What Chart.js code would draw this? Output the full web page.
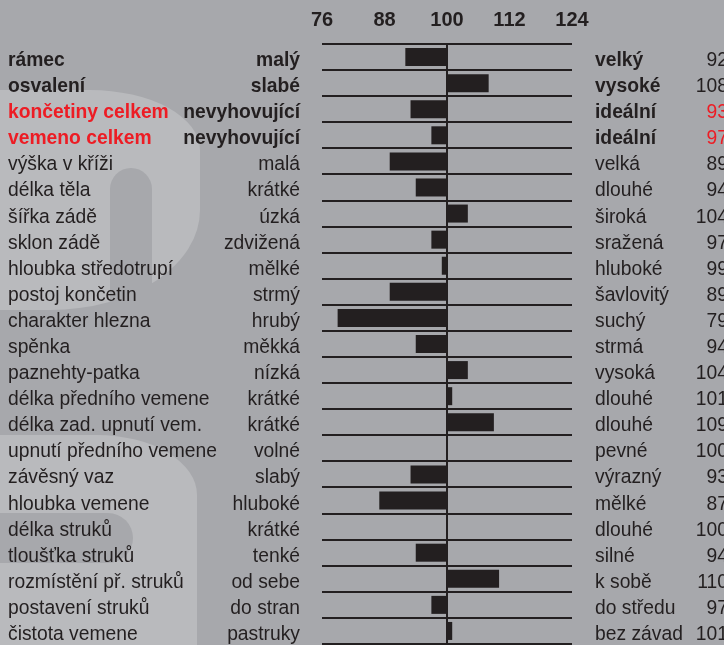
<!DOCTYPE html>
<html>
<head>
<meta charset="utf-8">
<script src="https://cdn.jsdelivr.net/npm/chart.js@4/dist/chart.umd.min.js"></script>
<style>
  html, body { margin: 0; padding: 0; background: #a7a8ac; }
  #wrap { position: relative; width: 724px; height: 645px; overflow: hidden; background: #a7a8ac; }
  .wm { position: absolute; background: #b9babd; }
  .hole { position: absolute; background: #a7a8ac; }
  canvas { position: absolute; left: 0; top: 0; }
</style>
</head>
<body>
<div id="wrap">
  <div class="wm" style="left:-60px; top:90px; width:260px; height:220px; border-radius:0 110px 150px 0 / 0 60px 100px 0;"></div>
  <div class="hole" style="left:110px; top:168px; width:42px; height:160px; border-radius:21px 21px 0 0;"></div>
  <div class="wm" style="left:-60px; top:435px; width:257px; height:230px; border-radius:0 100px 0 0 / 0 60px 0 0;"></div>
  <div class="hole" style="left:-20px; top:513px; width:153px; height:50px; border-radius:0 25px 25px 0;"></div>
  <canvas id="chart" width="724" height="645"></canvas>
</div>
<script>
const categories = [
  'rámec', 'osvalení', 'končetiny celkem', 'vemeno celkem', 'výška v kříži',
  'délka těla', 'šířka zádě', 'sklon zádě', 'hloubka středotrupí', 'postoj končetin',
  'charakter hlezna', 'spěnka', 'paznehty-patka', 'délka předního vemene',
  'délka zad. upnutí vem.', 'upnutí předního vemene', 'závěsný vaz', 'hloubka vemene',
  'délka struků', 'tloušťka struků', 'rozmístění př. struků', 'postavení struků',
  'čistota vemene'
];
const lowLabels = [
  'malý', 'slabé', 'nevyhovující', 'nevyhovující', 'malá', 'krátké', 'úzká',
  'zdvižená', 'mělké', 'strmý', 'hrubý', 'měkká', 'nízká', 'krátké', 'krátké',
  'volné', 'slabý', 'hluboké', 'krátké', 'tenké', 'od sebe', 'do stran', 'pastruky'
];
const highLabels = [
  'velký', 'vysoké', 'ideální', 'ideální', 'velká', 'dlouhé', 'široká',
  'sražená', 'hluboké', 'šavlovitý', 'suchý', 'strmá', 'vysoká', 'dlouhé', 'dlouhé',
  'pevné', 'výrazný', 'mělké', 'dlouhé', 'silné', 'k sobě', 'do středu', 'bez závad'
];
const values = [92, 108, 93, 97, 89, 94, 104, 97, 99, 89, 79, 94, 104, 101, 109, 100, 93, 87, 100, 94, 110, 97, 101];
const xTicks = [76, 88, 100, 112, 124];
const baseValue = 100;

const ink = '#231f20';
const red = '#ed1c24';
const font = '"Liberation Sans", Arial, Helvetica, sans-serif';
const boldRows = 4;          // first rows are the summary traits
const redRows = [2, 3];

const rowText = {
  id: 'rowText',
  afterDraw(chart) {
    const { ctx, scales: { y } } = chart;
    ctx.save();
    ctx.textBaseline = 'alphabetic';
    categories.forEach((cat, i) => {
      const yy = y.getPixelForValue(i) + 9;
      const bold = i < boldRows;
      const isRed = redRows.includes(i);
      ctx.font = (bold ? 'bold ' : '') + '19.3px ' + font;

      ctx.fillStyle = isRed ? red : ink;
      ctx.textAlign = 'left';
      ctx.fillText(cat, 8, yy);

      ctx.fillStyle = ink;
      ctx.textAlign = 'right';
      ctx.fillText(lowLabels[i], 300, yy);

      ctx.textAlign = 'left';
      ctx.fillText(highLabels[i], 595, yy);

      ctx.font = '19.3px ' + font;
      ctx.fillStyle = isRed ? red : ink;
      ctx.textAlign = 'right';
      ctx.fillText(String(values[i]), 728, yy);
    });
    ctx.restore();
  }
};

new Chart(document.getElementById('chart'), {
  type: 'bar',
  data: {
    labels: categories,
    datasets: [{
      data: values.map(v => [baseValue, v]),
      backgroundColor: ink,
      borderWidth: 0,
      borderSkipped: false,
      barPercentage: 0.69,
      categoryPercentage: 1
    }]
  },
  options: {
    indexAxis: 'y',
    responsive: false,
    animation: false,
    layout: { padding: { left: 322, right: 152, top: 0, bottom: 1 } },
    plugins: { legend: { display: false }, tooltip: { enabled: false } },
    scales: {
      x: {
        position: 'top',
        min: 76,
        max: 124,
        afterBuildTicks: s => { s.ticks = xTicks.map(v => ({ value: v })); },
        afterFit: s => { s.height = 44; },
        border: { display: false },
        grid: {
          drawTicks: false,
          lineWidth: 2,
          color: c => (c.tick && c.tick.value === baseValue ? ink : 'rgba(0,0,0,0)')
        },
        ticks: {
          padding: 12,
          color: ink,
          font: { family: font, size: 20, weight: 'bold' }
        }
      },
      y: {
        afterFit: s => { s.width = 0; },
        border: { display: false },
        grid: { offset: true, drawTicks: false, lineWidth: 2, color: ink },
        ticks: { display: false }
      }
    }
  },
  plugins: [rowText]
});
</script>
</body>
</html>
